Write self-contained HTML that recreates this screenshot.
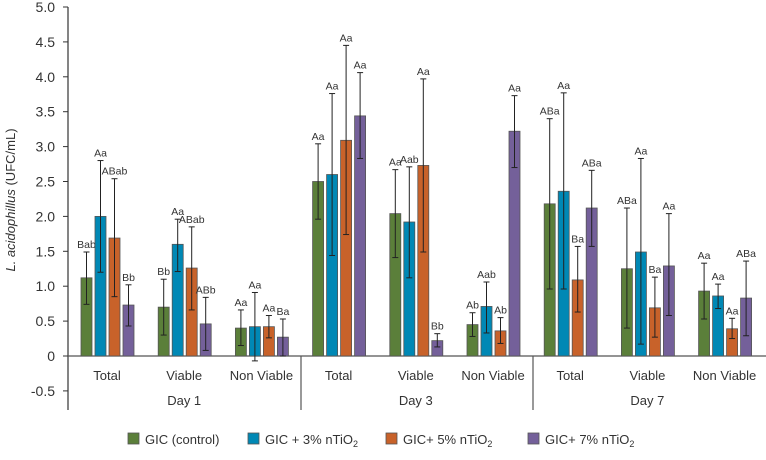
<!DOCTYPE html>
<html><head><meta charset="utf-8"><style>
body{margin:0;background:#fff;}
svg text{font-family:"Liberation Sans",sans-serif;fill:#333;}
</style></head><body>
<svg id="c" width="766" height="455"></svg>
<script>
const days=["Day 1","Day 3","Day 7"];
const cats=["Total","Viable","Non Viable"];
const seriesNames=["GIC (control)","GIC + 3% nTiO","GIC+ 5% nTiO","GIC+ 7% nTiO"];
const colors=["#5b7f3a","#0088b5","#c8622a","#74609a"];
const s0=[1.12,0.70,0.40,2.50,2.04,0.45,2.18,1.25,0.93];
const s1=[2.00,1.60,0.42,2.60,1.92,0.71,2.36,1.49,0.86];
const s2=[1.69,1.26,0.42,3.09,2.73,0.36,1.09,0.69,0.39];
const s3=[0.73,0.46,0.27,3.44,0.22,3.22,2.12,1.29,0.83];
const lo0=[0.74,0.30,0.15,1.96,1.41,0.28,0.96,0.40,0.53];
const hi0=[1.49,1.10,0.66,3.04,2.67,0.62,3.40,2.12,1.33];
const lo1=[1.20,1.21,-0.07,1.44,1.12,0.33,0.96,0.17,0.68];
const hi1=[2.80,1.96,0.91,3.76,2.71,1.06,3.77,2.83,1.03];
const lo2=[0.85,0.66,0.26,1.74,1.49,0.18,0.63,0.27,0.25];
const hi2=[2.54,1.85,0.58,4.45,3.97,0.55,1.57,1.13,0.54];
const lo3=[0.43,0.08,0.00,2.83,0.13,2.70,1.57,0.58,0.29];
const hi3=[1.02,0.84,0.53,4.06,0.32,3.73,2.66,2.04,1.36];
const lab0=["Bab","Bb","Aa","Aa","Aa","Ab","ABa","ABa","Aa"];
const lab1=["Aa","Aa","Aa","Aa","Aab","Aab","Aa","Aa","Aa"];
const lab2=["ABab","ABab","Aa","Aa","Aa","Ab","Ba","Ba","Aa"];
const lab3=["Bb","ABb","Ba","Aa","Bb","Aa","ABa","Aa","ABa"];
const yTicks=[-0.5,0,0.5,1,1.5,2,2.5,3,3.5,4,4.5,5];
const S=[s0,s1,s2,s3],LO=[lo0,lo1,lo2,lo3],HI=[hi0,hi1,hi2,hi3],LB=[lab0,lab1,lab2,lab3];
const NS="http://www.w3.org/2000/svg",svg=document.getElementById('c');
function y(v){return 356-69.8*v;}
function gx(i){return 107+i*77.2;}
function mk(t,a,p){const e=document.createElementNS(NS,t);for(const k in a)e.setAttribute(k,a[k]);(p||svg).appendChild(e);return e;}
// axes
let e=mk('line',{x1:68,y1:7,x2:68,y2:410,stroke:'#333','stroke-width':1.2});


e=mk('line',{x1:68,y1:356,x2:766,y2:356,stroke:'#555','stroke-width':1.2});


[301,533].forEach(x=>{const d=mk('line',{x1:x,y1:356,x2:x,y2:410,stroke:'#555','stroke-width':1.2});

});
yTicks.forEach(v=>{mk('line',{x1:63,x2:68,y1:y(v),y2:y(v),stroke:'#333'});
const t=mk('text',{x:55,y:y(v)+5,'text-anchor':'end','font-size':14});t.textContent=v===0?'0':v.toFixed(1);

});
e=mk('text',{transform:'translate(15,200) rotate(-90)','text-anchor':'middle','font-size':13});
e.innerHTML='<tspan font-style="italic">L. acidophillus</tspan> (UFC/mL)';


for(let i=0;i<9;i++){
 const t=mk('text',{x:gx(i),y:380,'text-anchor':'middle','font-size':13});t.textContent=cats[i%3];
 
 
 for(let s=0;s<4;s++){
  const x=gx(i)-26+s*14,v=S[s][i];
  const r=mk('rect',{x:x,y:y(v),width:11,height:y(0)-y(v),fill:colors[s],stroke:'#555','stroke-width':0.8});
  
  
  const cx=x+5.5,yl=y(LO[s][i]),yh=y(HI[s][i]);
  const g=mk('g',{stroke:'#222','stroke-width':1});
  
  
  mk('line',{x1:cx,x2:cx,y1:yl,y2:yh},g);mk('line',{x1:cx-3,x2:cx+3,y1:yl,y2:yl},g);mk('line',{x1:cx-3,x2:cx+3,y1:yh,y2:yh},g);
  const l=mk('text',{x:cx,y:yh-4,'text-anchor':'middle','font-size':10.5});l.textContent=LB[s][i];
  
  
 }
}
days.forEach((d,j)=>{const t=mk('text',{x:gx(j*3+1),y:405,'text-anchor':'middle','font-size':13});t.textContent=d;

});
const lx=[128,248,386,528];
seriesNames.forEach((n,s)=>{const g=mk('g',{});


mk('rect',{x:lx[s],y:433,width:11,height:11,fill:colors[s],stroke:'#555','stroke-width':0.8},g);
const t=mk('text',{x:lx[s]+17,y:444,'font-size':13},g);t.textContent=n;
if(s>0){const sub=mk('tspan',{'font-size':9,dy:3},t);sub.textContent='2';}});
</script>
</body></html>
